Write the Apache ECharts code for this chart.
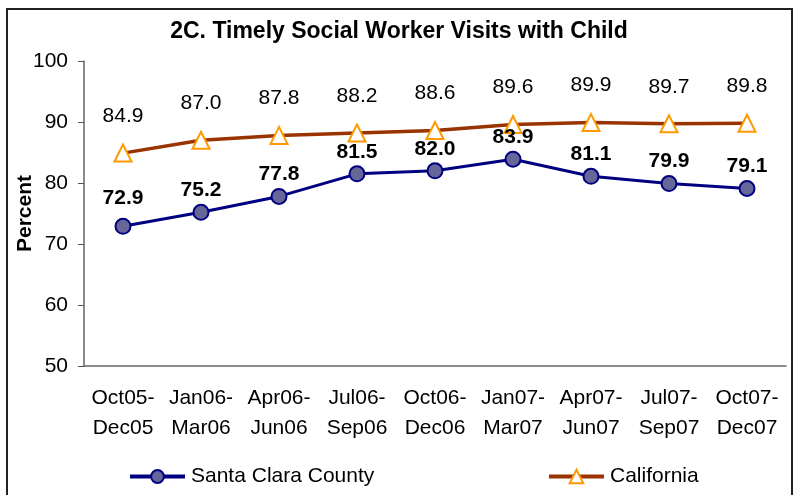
<!DOCTYPE html>
<html>
<head>
<meta charset="utf-8">
<script src="https://cdn.jsdelivr.net/npm/echarts@6/dist/echarts.min.js"></script>
<style>
  html, body { margin: 0; padding: 0; background: #fff; }
  #chart { width: 798px; height: 495px; }
</style>
</head>
<body>
<div id="chart"></div>
<script>
// 2C. Timely Social Worker Visits with Child

var periods = ['Oct05-\nDec05', 'Jan06-\nMar06', 'Apr06-\nJun06', 'Jul06-\nSep06', 'Oct06-\nDec06',
    'Jan07-\nMar07', 'Apr07-\nJun07', 'Jul07-\nSep07', 'Oct07-\nDec07'];
var santaClara = [72.9, 75.2, 77.8, 81.5, 82.0, 83.9, 81.1, 79.9, 79.1];
var california = [84.9, 87.0, 87.8, 88.2, 88.6, 89.6, 89.9, 89.7, 89.8];

var font = "'Liberation Sans', Arial, sans-serif";
var chart = echarts.init(document.getElementById('chart'), null, {renderer: 'canvas'});

var option = {
    animation: false,
    textStyle: {fontFamily: font},
    title: {
        text: '2C. Timely Social Worker Visits with Child',
        left: 'center',
        top: 15,
        textStyle: {fontFamily: font, fontSize: 23, fontWeight: 'bold', color: '#000'}
    },
    graphic: [{
        type: 'rect',
        shape: {x: 7, y: 9, width: 785, height: 500},
        style: {fill: 'none', stroke: '#222', lineWidth: 2},
        silent: true
    }],
    legend: [{
        data: ['Santa Clara County'],
        left: 128,
        top: 466,
        padding: 0,
        itemWidth: 55,
        itemHeight: 16,
        lineStyle: {width: 4},
        textStyle: {fontFamily: font, fontSize: 21, color: '#000', padding: [0, 0, 0, 1]}
    }, {
        data: ['California'],
        left: 547,
        top: 466,
        padding: 0,
        itemWidth: 55,
        itemHeight: 17,
        lineStyle: {width: 4},
        textStyle: {fontFamily: font, fontSize: 21, color: '#000', padding: [0, 0, 0, 1]}
    }],
    grid: {left: 84, right: 12, top: 61, bottom: 129, outerBoundsMode: 'none'},
    xAxis: [{
        type: 'category',
        data: periods,
        axisLine: {lineStyle: {color: '#666', width: 1.5}},
        axisTick: {inside: true, length: 4, lineStyle: {color: '#555'}},
        axisLabel: {
            interval: 0,
            margin: 17,
            fontFamily: font,
            fontSize: 21,
            lineHeight: 30,
            color: '#000'
        }
    }, {
        // 中间刻度 (ticks at category centres)
        type: 'category',
        data: periods,
        position: 'bottom',
        axisLine: {show: false},
        axisTick: {alignWithLabel: true, inside: true, length: 4, lineStyle: {color: '#555'}},
        axisLabel: {show: false}
    }],
    yAxis: {
        type: 'value',
        min: 50,
        max: 100,
        interval: 10,
        name: 'Percent',
        nameLocation: 'middle',
        nameRotate: 90,
        nameGap: 48,
        nameMoveOverlap: false,
        nameTextStyle: {fontFamily: font, fontSize: 21, fontWeight: 'bold', color: '#000'},
        splitLine: {show: false},
        axisLine: {show: true, lineStyle: {color: '#666', width: 1.5}},
        axisTick: {show: true, length: 6, lineStyle: {color: '#555'}},
        axisLabel: {margin: 16, fontFamily: font, fontSize: 21, color: '#000'}
    },
    series: [{
        name: 'Santa Clara County',
        type: 'line',
        xAxisIndex: 0,
        symbol: 'circle',
        symbolSize: 15,
        lineStyle: {color: '#000080', width: 3},
        itemStyle: {color: '#666699', borderColor: '#000080', borderWidth: 2},
        label: {
            show: true,
            position: 'top',
            distance: 3,
            fontFamily: font,
            fontSize: 21,
            fontWeight: 'bold',
            color: '#000',
            formatter: function (p) { return p.value.toFixed(1); }
        },
        data: santaClara.map(function (v, i) {
            return i === 0 ? {value: v, label: {distance: 9}} : v;
        }),
        z: 3
    }, {
        name: 'California',
        type: 'line',
        xAxisIndex: 0,
        symbol: 'triangle',
        symbolSize: [17, 17],
        lineStyle: {color: '#993300', width: 3.5},
        itemStyle: {color: '#ffffff', borderColor: '#ff9900', borderWidth: 2},
        label: {
            show: true,
            position: 'top',
            distance: 17,
            fontFamily: font,
            fontSize: 21,
            color: '#000',
            formatter: function (p) { return p.value.toFixed(1); }
        },
        data: california,
        z: 2
    }]
};
chart.setOption(option);
</script>
</body>
</html>
